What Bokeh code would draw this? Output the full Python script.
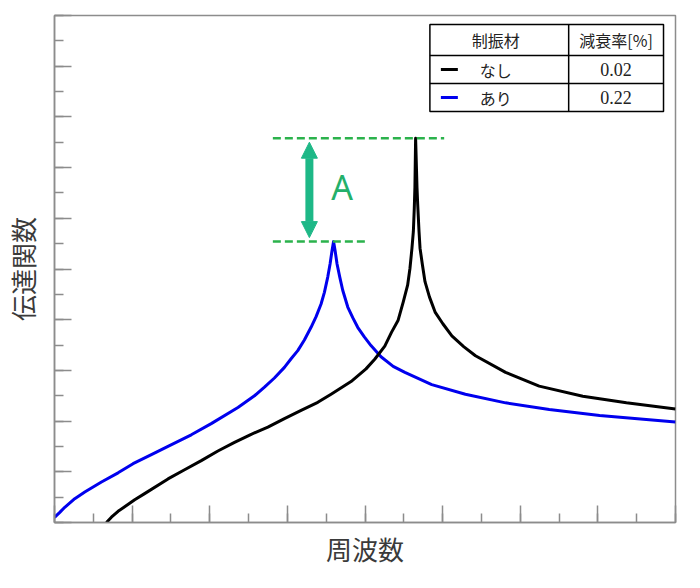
from bokeh.plotting import figure
from bokeh.models import FixedTicker, Range1d, Arrow, NormalHead
from bokeh.core.properties import value
from bokeh.embed import file_html
from bokeh.resources import INLINE

# ---------------- data ----------------
blue_x = [0.0, 0.068, 0.132, 0.261, 0.390, 0.605, 0.819, 1.012, 1.248, 1.462, 1.762,
          2.019, 2.363, 2.576, 2.705, 2.833, 2.962, 3.048,
          3.134, 3.219, 3.305, 3.370, 3.434, 3.477, 3.520, 3.550, 3.576, 3.595,
          3.614, 3.640, 3.675, 3.713, 3.778, 3.842, 3.906, 3.991, 4.077, 4.206,
          4.363, 4.514, 4.860, 5.293, 5.811, 6.374, 7.023, 8.0]
blue_y = [0.10, 0.20, 0.30, 0.47, 0.60, 0.80, 0.98, 1.16, 1.34, 1.50, 1.73,
          1.95, 2.27, 2.50, 2.67, 2.85, 3.06, 3.23,
          3.39, 3.60, 3.85, 4.06, 4.31, 4.54, 4.84, 5.10, 5.37, 5.54,
          5.37, 5.10, 4.84, 4.58, 4.25, 4.04, 3.85, 3.66, 3.49, 3.27,
          3.08, 2.96, 2.72, 2.53, 2.36, 2.23, 2.11, 1.98]

black_x = [0.669, 0.733, 0.819, 0.904, 1.033, 1.161, 1.462, 1.676, 1.891, 2.105, 2.319,
           2.534, 2.749, 2.962, 3.177, 3.392, 3.563, 3.820, 4.013, 4.125, 4.255,
           4.341, 4.427, 4.493, 4.549, 4.579, 4.605, 4.623, 4.635,
           4.643, 4.652, 4.670, 4.679, 4.696, 4.709, 4.740, 4.773, 4.830, 4.903, 5.003,
           5.119, 5.271, 5.423, 5.811, 6.244, 6.806, 7.368, 8.0]
black_y = [0.0, 0.105, 0.22, 0.31, 0.45, 0.57, 0.86, 1.04, 1.22, 1.41, 1.58,
           1.74, 1.88, 2.05, 2.21, 2.37, 2.53, 2.78, 3.03, 3.22, 3.48,
           3.75, 3.99, 4.35, 4.68, 5.01, 5.41, 5.74, 6.20,
           6.61, 7.58, 6.60, 6.27, 5.74, 5.41, 5.08, 4.75, 4.45, 4.15, 3.92,
           3.68, 3.47, 3.29, 2.96, 2.69, 2.49, 2.36, 2.24]

x_major = [0, 1, 2, 3, 4, 5, 6, 7, 8]
x_minor = [i * 0.5 for i in range(17)]
y_major = [0, 1, 2, 3, 4, 5, 6, 7, 8, 9, 10]
y_minor = [i * 0.5 for i in range(21)]

legend_header = ["制振材", "減衰率[%]"]
legend_names = ["なし", "あり"]
legend_damping = ["0.02", "0.22"]
series_colors = ["#000000", "#0000ee"]

x_label = "周波数"
y_label = "伝達関数"
annot_label = "A"

# ---------------- figure ----------------
W, H = 692, 580
FL, FT, FR, FB = 53, 15, 675, 522   # frame edges on canvas (px)
XMAX, YMAX = 8.0, 10.0

p = figure(width=W, height=H, output_backend="svg", toolbar_location=None,
           x_range=Range1d(0, XMAX), y_range=Range1d(0, YMAX),
           min_border_left=FL, min_border_top=FT,
           min_border_right=W - FR, min_border_bottom=H - FB)
p.background_fill_color = "white"
p.border_fill_color = "white"
p.outline_line_color = "#8c8c8c"
p.outline_line_width = 1.5
p.xgrid.visible = False
p.ygrid.visible = False


def sx(px):
    """canvas px -> data x"""
    return (px - FL) / (FR - FL) * XMAX


def sy(py):
    """canvas py -> data y"""
    return (FB - py) / (FB - FT) * YMAX


axis_color = "#8c8c8c"
for ax, maj, mnr in ((p.xaxis[0], x_major, x_minor), (p.yaxis[0], y_major, y_minor)):
    ax.ticker = FixedTicker(ticks=maj, minor_ticks=mnr)
    ax.axis_line_color = axis_color
    ax.axis_line_width = 1.5
    ax.major_tick_line_color = axis_color
    ax.minor_tick_line_color = axis_color
    ax.major_tick_line_width = 1.5
    ax.minor_tick_line_width = 1.5
    ax.major_tick_in = 17
    ax.major_tick_out = 0
    ax.minor_tick_in = 9
    ax.minor_tick_out = 0
    ax.major_label_text_font_size = "0px"
    ax.major_label_standoff = 0
    ax.axis_label_text_font = "Noto Sans CJK JP"
    ax.axis_label_text_font_style = "normal"
    ax.axis_label_text_font_size = "26px"
    ax.axis_label_text_color = "#3a3a3a"

p.xaxis.axis_label = x_label
p.yaxis.axis_label = y_label
p.xaxis.axis_label_standoff = 7
p.yaxis.axis_label_standoff = 14

# ---------------- curves ----------------
p.line(blue_x, blue_y, line_color=series_colors[1], line_width=3, line_join="round")
p.line(black_x, black_y, line_color=series_colors[0], line_width=3, line_join="round")

# ---------------- annotation A ----------------
green_dash = "#2bb24c"
arrow_green = "#1eb887"
top_peak = max(black_y)
low_peak = max(blue_y)
p.segment(x0=[sx(271.7)], y0=[top_peak], x1=[sx(443.3)], y1=[top_peak],
          line_color=green_dash, line_width=2.5, line_dash="8 4")
p.segment(x0=[sx(271.7)], y0=[low_peak], x1=[sx(366.7)], y1=[low_peak],
          line_color=green_dash, line_width=2.5, line_dash="8 4")

ax_x = sx(308.3)
px_per_y = (FB - FT) / YMAX
gap = 4.0 / px_per_y
p.add_layout(Arrow(x_start=ax_x, y_start=low_peak + gap, x_end=ax_x, y_end=top_peak - gap,
                   line_color=arrow_green, line_width=8,
                   start=NormalHead(size=16, fill_color=arrow_green, line_color=arrow_green),
                   end=NormalHead(size=16, fill_color=arrow_green, line_color=arrow_green)))
p.text(x=[sx(341)], y=[(top_peak + low_peak) / 2 + 0.05], text=[annot_label],
       text_font=value("Noto Sans"), text_font_size="34px", text_color="#24b06a",
       text_align="center", text_baseline="middle")

# ---------------- legend table ----------------
tl, tr, tt, tb = 429, 663, 24, 111
col = 568
r1, r2 = 55, 83
p.quad(left=[sx(tl)], right=[sx(tr)], top=[sy(tt)], bottom=[sy(tb)],
       fill_color="white", line_color="black", line_width=1.5)
p.segment(x0=[sx(tl), sx(tl), sx(col)], y0=[sy(r1), sy(r2), sy(tt)],
          x1=[sx(tr), sx(tr), sx(col)], y1=[sy(r1), sy(r2), sy(tb)],
          line_color="black", line_width=1.5)

hy = (tt + r1) / 2
row_y = [(r1 + r2) / 2, (r2 + tb) / 2]
c1 = 495
c2 = (col + tr) / 2
p.text(x=[sx(c1), sx(c2)], y=[sy(hy), sy(hy)], text=legend_header,
       text_font=value("Noto Sans CJK JP"), text_font_size="16px", text_color="#222222",
       text_align="center", text_baseline="middle")
p.text(x=[sx(c1), sx(c1)], y=[sy(v) for v in row_y], text=legend_names,
       text_font=value("Noto Sans CJK JP"), text_font_size="16px", text_color="#222222",
       text_align="center", text_baseline="middle")
p.text(x=[sx(c2), sx(c2)], y=[sy(v) for v in row_y], text=legend_damping,
       text_font=value("Liberation Serif"), text_font_size="18px", text_color="#222222",
       text_align="center", text_baseline="middle")
p.segment(x0=[sx(440), sx(440)], y0=[sy(v) for v in row_y],
          x1=[sx(457), sx(457)], y1=[sy(v) for v in row_y],
          line_color=series_colors, line_width=3)

open("out.html", "w").write(file_html(p, INLINE))
